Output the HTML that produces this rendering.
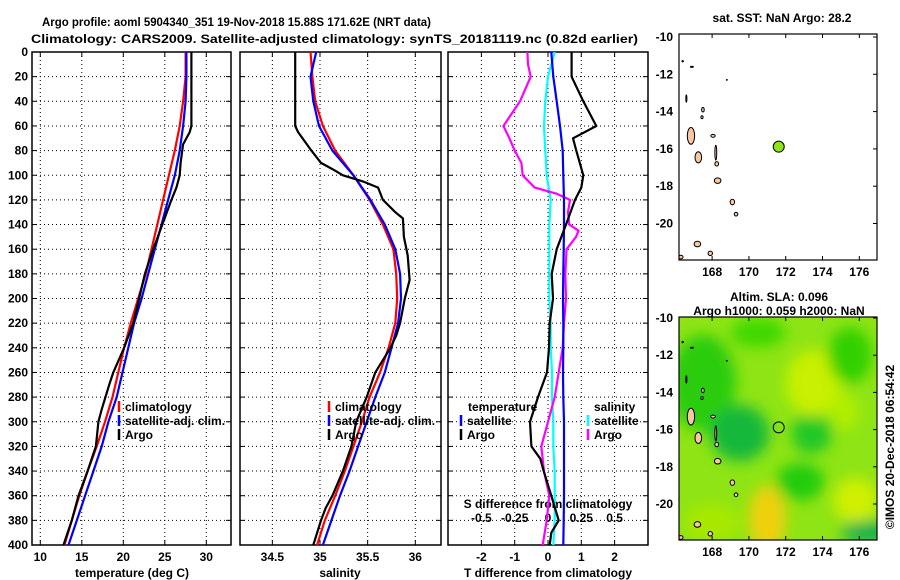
<!DOCTYPE html>
<html><head><meta charset="utf-8"><style>
html,body{margin:0;padding:0;background:#fff}
svg{display:block}
text{font-family:"Liberation Sans",Arial,sans-serif;font-weight:bold;font-size:12px;fill:#000}
</style></head><body>
<svg id="s" width="900" height="580" viewBox="0 0 900 580" xmlns="http://www.w3.org/2000/svg">
<defs>
<filter id="blur" x="-50%" y="-50%" width="200%" height="200%"><feGaussianBlur stdDeviation="7"/></filter>
<clipPath id="clipMap2"><rect x="679" y="317" width="198" height="223"/></clipPath>
<clipPath id="clipMap1"><rect x="679" y="34" width="198" height="226"/></clipPath>
</defs>
<text x="42" y="26" textLength="389" lengthAdjust="spacingAndGlyphs" font-size="14">Argo profile: aoml 5904340_351 19-Nov-2018 15.88S 171.62E (NRT data)</text>
<text x="31" y="43" textLength="607" lengthAdjust="spacingAndGlyphs" font-size="14">Climatology: CARS2009. Satellite-adjusted climatology: synTS_20181119.nc (0.82d earlier)</text>
<text x="782" y="22" text-anchor="middle">sat. SST: NaN Argo: 28.2</text>
<text x="779" y="301" text-anchor="middle">Altim. SLA: 0.096</text>
<text x="779" y="315" text-anchor="middle">Argo h1000: 0.059 h2000: NaN</text>
<text transform="translate(894,447) rotate(-90)" text-anchor="middle" font-weight="normal">©IMOS 20-Dec-2018 06:54:42</text>
<g id="g"></g>
</svg>
<script>
// ---- data ----
const climDepth=[0,20,40,60,80,100,120,140,160,180,200,220,240,260,280,300,320,340,360,380,400];
const tempClim=[27.5,27.5,27.2,26.8,26.2,25.5,24.8,24.1,23.4,22.7,21.8,20.9,20.1,19.4,18.7,17.8,16.8,15.7,14.7,13.8,12.9];
const tempSat=[27.6,27.6,27.5,27.2,26.8,26.2,25.4,24.6,23.8,23.0,22.2,21.3,20.6,19.9,19.2,18.2,17.4,16.4,15.4,14.4,13.4];
const argoTDepth=[0,60,65,75,90,100,110,120,140,160,180,200,220,240,260,270,290,300,320,340,360,380,400];
const tempArgo=[28.2,28.2,28.0,27.2,26.9,26.8,26.4,25.8,24.7,23.6,22.6,21.9,21.2,20.1,18.8,18.3,17.4,17.0,16.7,15.7,14.6,13.8,12.8];
const salClim=[34.90,34.92,34.95,35.03,35.16,35.35,35.52,35.66,35.77,35.80,35.81,35.79,35.72,35.63,35.52,35.44,35.35,35.26,35.16,35.05,34.97];
const salSat=[34.96,34.90,34.93,34.99,35.13,35.35,35.53,35.68,35.79,35.84,35.85,35.82,35.75,35.68,35.58,35.49,35.40,35.31,35.21,35.12,35.03];
const argoSDepth=[0,60,65,80,90,95,100,105,110,120,130,135,150,165,185,200,220,230,240,260,280,300,320,340,360,370,380,400];
const salArgo=[34.74,34.74,34.77,34.91,35.01,35.13,35.24,35.45,35.61,35.66,35.79,35.87,35.88,35.92,35.94,35.89,35.84,35.80,35.74,35.58,35.49,35.38,35.33,35.24,35.13,35.06,35.01,34.93];
const diffDepth=[0,20,40,60,80,100,120,140,160,180,200,220,240,260,280,300,320,340,360,380,400];
const tDiffSat=[0.10,0.16,0.26,0.36,0.44,0.46,0.48,0.48,0.47,0.46,0.45,0.46,0.46,0.45,0.46,0.48,0.48,0.48,0.48,0.47,0.46];
const sDiffSat=[0.05,0.00,-0.02,-0.03,-0.02,-0.01,0.02,0.01,0.01,0.01,0.01,0.02,0.02,0.03,0.03,0.04,0.04,0.05,0.05,0.05,0.04];
const tDiffArgoDepth=[0,20,40,60,70,80,100,110,120,140,160,180,200,220,240,260,280,300,320,330,340,360,380,390,400];
const tDiffArgo=[0.71,0.71,1.06,1.45,0.75,0.85,1.06,1.00,0.81,0.54,0.26,0.11,0.15,0.05,0.03,-0.03,-0.30,-0.54,-0.50,-0.23,-0.13,0.10,0.32,0.10,0.05];
const sDiffArgoDepth=[0,10,20,40,60,70,80,90,100,110,115,120,130,140,145,150,160,180,200,220,240,260,280,300,320,340,360,380,400];
const sDiffArgo=[-0.155,-0.15,-0.13,-0.21,-0.335,-0.29,-0.25,-0.20,-0.19,-0.10,0.065,0.165,0.15,0.16,0.23,0.21,0.14,0.13,0.135,0.12,0.11,0.08,0.05,0.00,-0.05,-0.03,0.01,-0.01,-0.04];
const tempTicks=[10,15,20,25,30];
const salTicks=[34.5,35,35.5,36];
const tDiffTicks=[-2,-1,0,1,2];
const sDiffTicks=[-0.5,-0.25,0,0.25,0.5];
const sDiffTickLabels=["-0.5","-0.25","0","0.25","0.5"];
const depthTicks=[0,20,40,60,80,100,120,140,160,180,200,220,240,260,280,300,320,340,360,380,400];
const lonTicks=[168,170,172,174,176];
const latTicks=[-10,-12,-14,-16,-18,-20];
const argoPos=[171.62,-15.88];
const islands=[[166.85,-15.3,0.2,0.45],[167.25,-16.45,0.18,0.3],[168.05,-15.3,0.12,0.08],[168.2,-16.2,0.05,0.4],[168.3,-17.7,0.18,0.15],[169.1,-18.85,0.12,0.15],[169.3,-19.5,0.1,0.1],[167.2,-21.1,0.18,0.15],[167.9,-21.6,0.12,0.12],[167.5,-13.9,0.07,0.12],[167.45,-14.3,0.06,0.08],[168.25,-16.8,0.1,0.12],[166.3,-21.8,0.12,0.1],[166.4,-11.3,0.04,0.04],[166.9,-11.6,0.08,0.03],[168.8,-12.3,0.03,0.02],[166.6,-13.3,0.03,0.2]];
const slaBlobs=[[167.5,-13.5,1.8,2.6,"#2ccc10"],[169.5,-16.2,1.6,1.5,"#14b83a"],[173.4,-16.2,1.1,1.1,"#22c828"],[172.8,-18.8,1.3,1.0,"#22cc10"],[171.0,-20.8,1.0,1.8,"#f0d010"],[173.5,-13.5,1.5,1.8,"#c8f000"],[170.5,-10.8,1.5,0.8,"#40d800"],[175.5,-12.0,1.2,1.5,"#30d000"],[175.8,-19.8,1.2,1.2,"#d0f000"],[176.5,-21.5,1.5,0.6,"#10b050"],[168.0,-21.0,1.5,1.0,"#a8e800"],[175.2,-15.0,0.8,1.0,"#b0ee00"]];

// ---- geometry ----
const NS="http://www.w3.org/2000/svg";
const G=document.getElementById('g');
const yD=d=>52+d*(545-52)/400;
const xT=t=>40.3+(t-10)*8.3;
const xS=s=>320+(s-35)*95.3;
const xTD=d=>548+d*33.3;
const xSD=d=>548+d*133.2;
const lonX=l=>679+(l-166.2)*18.4;
const lat1=l=>37+(-10-l)*18.65;
const lat2=l=>318+(-10-l)*18.6;
function el(tag,attrs,parent){const e=document.createElementNS(NS,tag);for(const k in attrs)e.setAttribute(k,attrs[k]);(parent||G).appendChild(e);return e;}
function txt(x,y,s,anchor){const e=el('text',{x:x,y:y,'text-anchor':anchor||'start'});e.textContent=s;return e;}

const panels=[{x0:32,x1:231,name:'temperature'},{x0:240,x1:441,name:'salinity'},{x0:448,x1:648,name:'difference'}];
panels.forEach((p,i)=>{
  const box=el('rect',{x:p.x0,y:52,width:p.x1-p.x0,height:493,fill:'none',stroke:'#000','stroke-width':1.5});
  
  
  depthTicks.forEach(d=>{
    if(d>0&&d<400){const gl=el('line',{x1:p.x0,x2:p.x1,y1:yD(d),y2:yD(d),stroke:'#000','stroke-dasharray':'1 3'});
    
    
    el('line',{x1:p.x0,x2:p.x0+5,y1:yD(d),y2:yD(d),stroke:'#000'});
    el('line',{x1:p.x1-5,x2:p.x1,y1:yD(d),y2:yD(d),stroke:'#000'});}
  });
});
depthTicks.forEach(d=>{const t=txt(28,yD(d)+4,String(d),'end');
  
  });
function vgrid(ticks,fx,labels,ly){ticks.forEach((v,i)=>{const x=fx(v);
  const gl=el('line',{x1:x,x2:x,y1:52,y2:545,stroke:'#000','stroke-dasharray':'1 3'});
  
  
  el('line',{x1:x,x2:x,y1:52,y2:57,stroke:'#000'});el('line',{x1:x,x2:x,y1:540,y2:545,stroke:'#000'});
  if(labels){const t=txt(x,ly,labels[i],'middle');
  
  }});}
vgrid(tempTicks,xT,tempTicks.map(String),561);
vgrid(salTicks,xS,salTicks.map(String),561);
vgrid(tDiffTicks,xTD,tDiffTicks.map(String),561);
sDiffTicks.forEach((v,i)=>{const t=txt(xSD(v),522,sDiffTickLabels[i],'middle');
  
  });
let t;
t=txt(132,577,'temperature (deg C)','middle');
t=txt(340,577,'salinity','middle');
t=txt(548,577,'T difference from climatology','middle');
t=txt(548,508,'S difference from climatology','middle');

function series(depths,vals,fx,color,name){
  const pts=depths.map((d,i)=>fx(vals[i]).toFixed(1)+','+yD(d).toFixed(1)).join(' ');
  const pl=el('polyline',{points:pts,fill:'none',stroke:color,'stroke-width':2.2,'stroke-linejoin':'round'});
  
  
}
series(climDepth,tempClim,xT,'#f00','temp-climatology-line');
series(climDepth,tempSat,xT,'#00f','temp-satellite-line');
series(argoTDepth,tempArgo,xT,'#000','temp-argo-line');
series(climDepth,salClim,xS,'#f00','sal-climatology-line');
series(climDepth,salSat,xS,'#00f','sal-satellite-line');
series(argoSDepth,salArgo,xS,'#000','sal-argo-line');
series(diffDepth,sDiffSat,xSD,'#0ff','s-diff-satellite-line');
series(sDiffArgoDepth,sDiffArgo,xSD,'#f0f','s-diff-argo-line');
series(diffDepth,tDiffSat,xTD,'#00f','t-diff-satellite-line');
series(tDiffArgoDepth,tDiffArgo,xTD,'#000','t-diff-argo-line');

function legend(x,y,color,label){
  const l=el('line',{x1:x,x2:x,y1:y-10,y2:y+1,stroke:color,'stroke-width':2.5});
  
  
  const tt=txt(x+6,y,label);
  
  
}
legend(119,411,'#f00','climatology');legend(119,425,'#00f','satellite-adj. clim.');legend(119,439,'#000','Argo');
legend(329,411,'#f00','climatology');legend(329,425,'#00f','satellite-adj. clim.');legend(329,439,'#000','Argo');
t=txt(468,411,'temperature');
legend(461,425,'#00f','satellite');legend(461,439,'#000','Argo');
t=txt(594,411,'salinity');
legend(588,425,'#0ff','satellite');legend(588,439,'#f0f','Argo');

// ---- maps ----
function map(top,bottom,fy,name,sla){
  const grp=el('g',{'clip-path':'url(#'+(sla?'clipMap2':'clipMap1')+')'});
  
  
  if(sla){
    el('rect',{x:679,y:top,width:198,height:bottom-top,fill:'#8ee414'},grp);
    const bg=el('g',{filter:'url(#blur)'},grp);
    slaBlobs.forEach(b=>{const e=el('ellipse',{cx:lonX(b[0]),cy:fy(b[1]),rx:b[2]*18.4,ry:b[3]*18.6,fill:b[4]},bg);
      
      });
  }
  islands.forEach(s=>{const e=el('ellipse',{cx:lonX(s[0]),cy:fy(s[1]),rx:s[2]*18.4,ry:s[3]*18.6,fill:'#f8c8a0',stroke:'#000','stroke-width':1},grp);
    
    });
  const pt=el('circle',{cx:lonX(argoPos[0]),cy:fy(argoPos[1]),r:5.5,fill:sla?'none':'#8ee414',stroke:'#000','stroke-width':1});
  
  
  const f=el('rect',{x:679,y:top,width:198,height:bottom-top,fill:'none',stroke:'#000','stroke-width':1.2});
  
  
  lonTicks.forEach(l=>{const x=lonX(l);el('line',{x1:x,x2:x,y1:top,y2:top+4,stroke:'#000'});el('line',{x1:x,x2:x,y1:bottom-4,y2:bottom,stroke:'#000'});
    const tt=txt(x,bottom+16,String(l),'middle');
    
    });
  latTicks.forEach(l=>{const y=fy(l);if(y<top-4||y>bottom)return;el('line',{x1:873,x2:877,y1:y,y2:y,stroke:'#000'});
    const tt=txt(673,y+4,String(l),'end');
    
    });
}
map(34,260,lat1,'sst-map',false);
map(317,540,lat2,'sla-map',true);
</script>
</body></html>
